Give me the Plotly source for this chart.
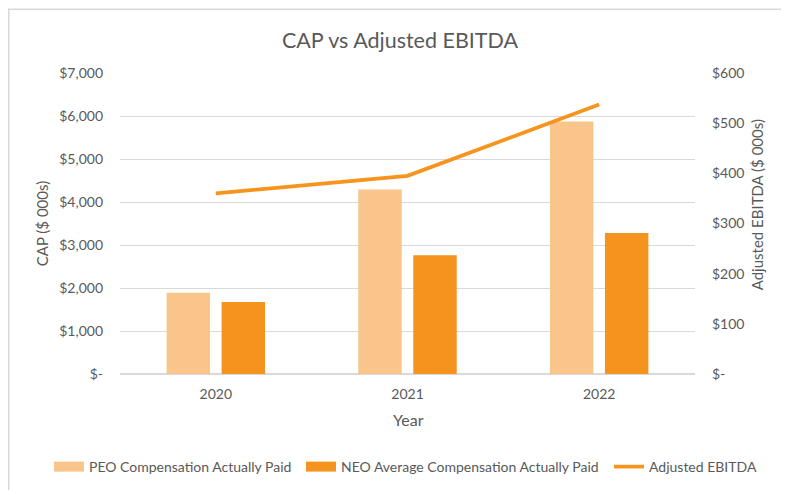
import plotly.graph_objects as go

years = ["2020", "2021", "2022"]
peo_cap = [1890, 4290, 5875]
neo_cap = [1675, 2760, 3280]
adj_ebitda = [360, 395, 537]

left_tickvals = [0, 1000, 2000, 3000, 4000, 5000, 6000, 7000]
left_ticktext = ["$-", "$1,000", "$2,000", "$3,000", "$4,000", "$5,000", "$6,000", "$7,000"]
right_tickvals = [0, 100, 200, 300, 400, 500, 600]
right_ticktext = ["$-", "$100", "$200", "$300", "$400", "$500", "$600"]

FONT = "Lato, Carlito, Calibri, sans-serif"
GRAY = "#595959"
GRID = "#D9D9D9"
PEO_COLOR = "#F9C58A"
NEO_COLOR = "#F5931F"
LINE_COLOR = "#F7941D"

# page body has an 8px margin; figure is placed at (8, 8)
OFF = 8
W, H = 789 - OFF, 490 - OFF
L, T = 120 - OFF, 72.5 - OFF
pw, ph = 575, 301.5
R, B = W - L - pw, H - T - ph


def px_x(xpage):
    return (xpage - OFF - L) / pw


def px_y(ypage):
    return (T + ph - (ypage - OFF)) / ph


def cx(xpage):
    return (xpage - OFF) / W


def cy(ypage):
    return 1 - (ypage - OFF) / H


fig = go.Figure()
fig.add_trace(go.Bar(x=years, y=peo_cap, name="PEO Compensation Actually Paid",
                     marker=dict(color=PEO_COLOR, line=dict(width=0)), showlegend=False))
fig.add_trace(go.Bar(x=years, y=neo_cap, name="NEO Average Compensation Actually Paid",
                     marker=dict(color=NEO_COLOR, line=dict(width=0)), showlegend=False))
fig.add_trace(go.Scatter(x=years, y=adj_ebitda, name="Adjusted EBITDA", yaxis="y2",
                         mode="lines", line=dict(color=LINE_COLOR, width=3.7), showlegend=False))

# legend entries (bar swatches drawn as wide rectangles like the reference)
fig.add_trace(go.Scatter(x=[None], y=[None], name="PEO Compensation Actually Paid",
                         mode="lines", line=dict(color=PEO_COLOR, width=12), legend="legend"))
fig.add_trace(go.Scatter(x=[None], y=[None], name="NEO Average Compensation Actually Paid",
                         mode="lines", line=dict(color=NEO_COLOR, width=12), legend="legend2"))
fig.add_trace(go.Scatter(x=[None], y=[None], name="Adjusted EBITDA", yaxis="y2",
                         mode="lines", line=dict(color=LINE_COLOR, width=3.7), legend="legend3"))

LEG_Y = 467


def leg(xpage):
    return dict(orientation="h", xref="container", yref="container",
                x=cx(xpage), xanchor="left", y=cy(LEG_Y), yanchor="middle",
                font=dict(size=14, color=GRAY, family=FONT),
                itemwidth=30, bgcolor="rgba(0,0,0,0)", borderwidth=0)


fig.update_layout(
    width=W, height=H,
    margin=dict(l=L, r=R, t=T, b=B, autoexpand=False),
    paper_bgcolor="white", plot_bgcolor="white",
    font=dict(family=FONT, color=GRAY, size=14),
    title=dict(text="CAP vs Adjusted EBITDA", x=cx(400), xref="container", xanchor="center",
               y=cy(40), yref="container", yanchor="middle",
               font=dict(size=21.5, color=GRAY, family=FONT)),
    barmode="group", bargap=0.426, bargroupgap=0.21,
    showlegend=True,
    legend=leg(49), legend2=leg(301), legend3=leg(609),
    xaxis=dict(showgrid=False, showline=False, zeroline=False, ticks="",
               tickfont=dict(size=14, color=GRAY), ticklabelstandoff=10),
    yaxis=dict(range=[0, 7000], tickvals=left_tickvals, ticktext=left_ticktext,
               showgrid=True, gridcolor=GRID, gridwidth=1, zeroline=True, zerolinecolor=GRID,
               showline=False, ticks="", tickfont=dict(size=14, color=GRAY),
               ticklabelstandoff=16),
    yaxis2=dict(range=[0, 600], tickvals=right_tickvals, ticktext=right_ticktext,
                overlaying="y", side="right", showgrid=False, zeroline=False, showline=False,
                ticks="", tickfont=dict(size=14, color=GRAY), ticklabelstandoff=16),
)

fig.add_annotation(text="CAP ($ 000s)", textangle=-90, x=px_x(42), y=px_y(224),
                   xref="paper", yref="paper", xanchor="center", yanchor="middle",
                   showarrow=False, font=dict(size=15, color=GRAY, family=FONT))
fig.add_annotation(text="Adjusted EBITDA ($ 000s)", textangle=-90, x=px_x(757), y=px_y(205),
                   xref="paper", yref="paper", xanchor="center", yanchor="middle",
                   showarrow=False, font=dict(size=15, color=GRAY, family=FONT))
fig.add_annotation(text="Year", x=px_x(408), y=px_y(420),
                   xref="paper", yref="paper", xanchor="center", yanchor="middle",
                   showarrow=False, font=dict(size=16, color=GRAY, family=FONT))

# light frame along top and left edges
fig.add_shape(type="line", xref="paper", yref="paper", x0=px_x(OFF), x1=px_x(800),
              y0=px_y(OFF + 0.75), y1=px_y(OFF + 0.75), line=dict(color=GRID, width=1.5))
fig.add_shape(type="line", xref="paper", yref="paper", x0=px_x(OFF + 0.75), x1=px_x(OFF + 0.75),
              y0=px_y(OFF), y1=px_y(500), line=dict(color=GRID, width=1.5))

fig.write_html("out.html")
